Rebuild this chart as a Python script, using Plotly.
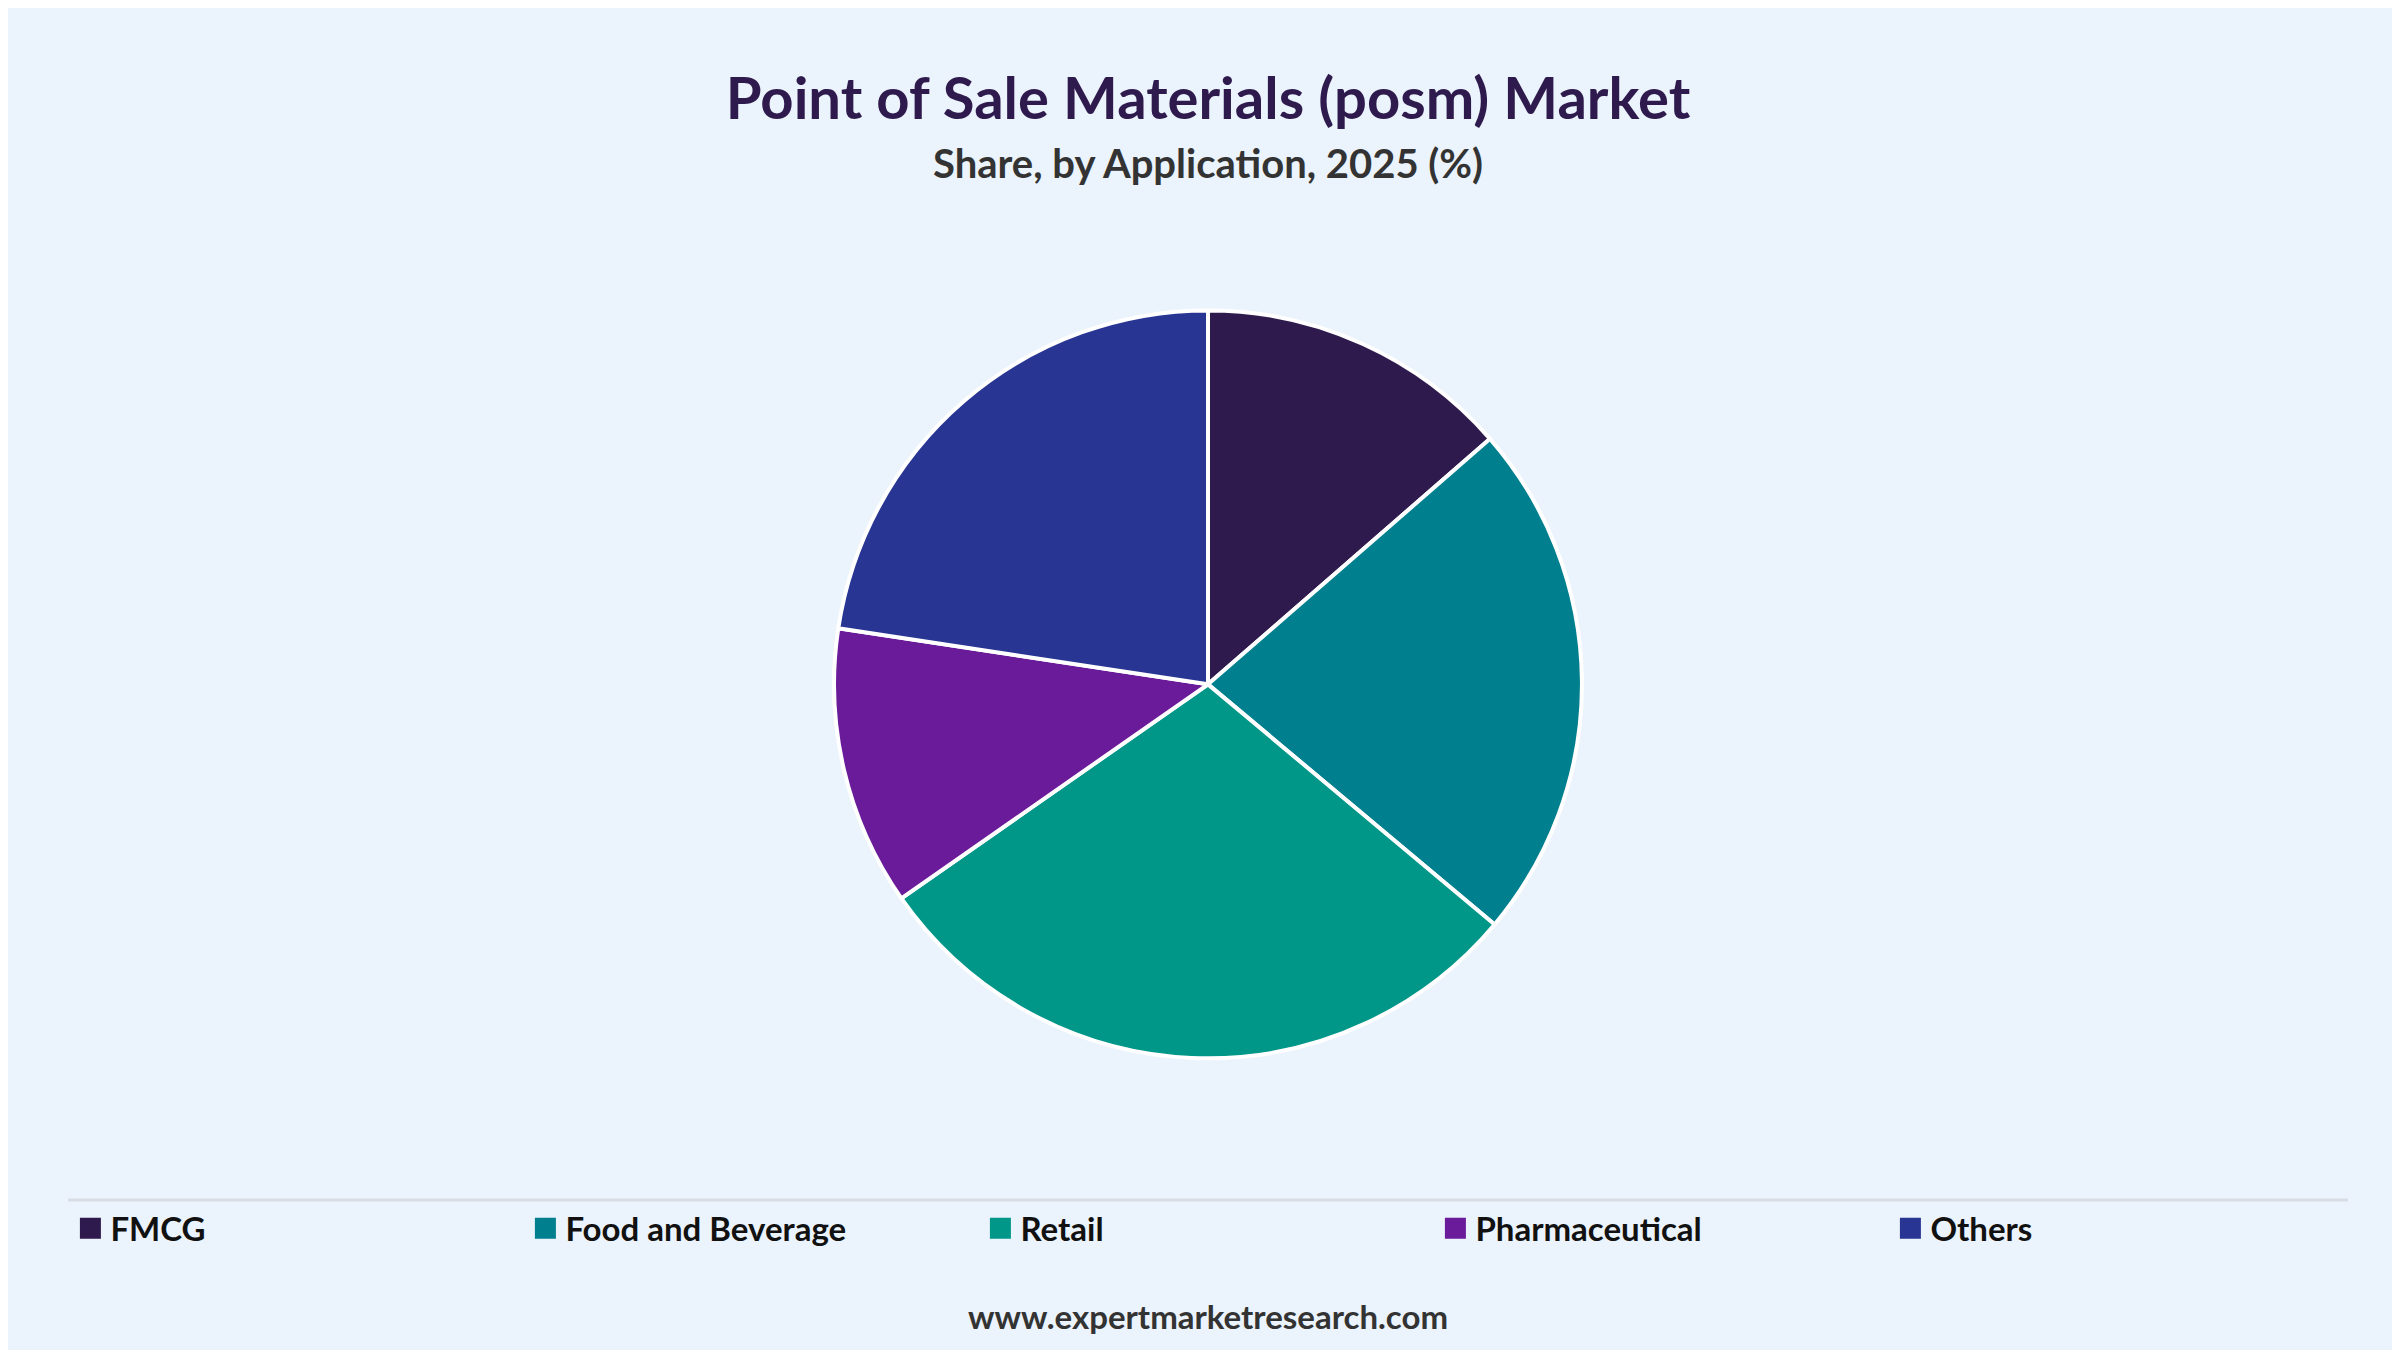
import plotly.graph_objects as go

labels = ["FMCG", "Food and Beverage", "Retail", "Pharmaceutical", "Others"]
values = [13.6, 22.5, 29.2, 12.1, 22.6]
colors = ["#2E1A4D", "#007F8E", "#009688", "#6A1B9A", "#283593"]

fig = go.Figure(go.Pie(
    labels=labels, values=values, sort=False, direction="clockwise", rotation=0,
    marker=dict(colors=colors, line=dict(color="white", width=4)),
    textinfo="none", hoverinfo="label+percent", showlegend=False,
    domain=dict(x=[0.344, 0.656], y=[0.222, 0.776]),
))
for lab, col in zip(labels, colors):
    fig.add_trace(go.Scatter(x=[None], y=[None], mode="markers", name="<b>" + lab + "</b>",
                             marker=dict(symbol="square", size=30, color=col,
                                         line=dict(color=col, width=6))))
fig.update_xaxes(visible=False)
fig.update_yaxes(visible=False)
fig.update_layout(
    width=2400, height=1350, paper_bgcolor="#EBF3FC", plot_bgcolor="#EBF3FC",
    margin=dict(l=0, r=0, t=0, b=0),
    font=dict(family="Lato, Noto Sans", color="#111"),
    title=dict(text="<b>Point of Sale Materials (posm) Market</b>", x=0.5, xanchor="center",
               y=0.933, yanchor="middle", font=dict(size=58, color="#2E1A4D")),
    legend=dict(orientation="h", x=0.026, xanchor="left", y=0.096, yanchor="middle",
                entrywidth=410, entrywidthmode="pixels", font=dict(size=33, color="#111"),
                itemclick=False, bgcolor="rgba(0,0,0,0)"),
    shapes=[dict(type="line", xref="paper", yref="paper", x0=0.025, x1=0.975, y0=0.117, y1=0.117,
                 line=dict(color="#D8DDE3", width=3))],
    annotations=[
        dict(text="<b>Share, by Application, 2025 (%)</b>", x=0.5, y=0.885, xref="paper", yref="paper",
             yanchor="middle", showarrow=False, font=dict(size=40, color="#333")),
        dict(text="<b>www.expertmarketresearch.com</b>", x=0.5, y=0.031, xref="paper", yref="paper",
             yanchor="middle", showarrow=False, font=dict(size=33, color="#333")),
    ],
)
fig.write_html("out.html")
